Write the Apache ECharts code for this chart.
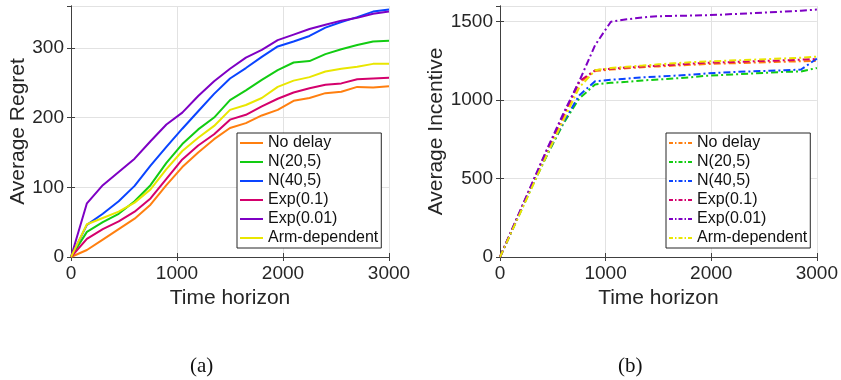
<!DOCTYPE html>
<html>
<head>
<meta charset="utf-8">
<script src="https://cdn.jsdelivr.net/npm/echarts@6/dist/echarts.min.js"></script>
<style>
  html, body { margin: 0; padding: 0; background: #fff; }
  #chart { width: 841px; height: 380px; }
</style>
</head>
<body>
<div id="chart"></div>
<script>
var steps = [0, 150, 300, 450, 600, 750, 900, 1050, 1200, 1350, 1500, 1650, 1800, 1950, 2100, 2250, 2400, 2550, 2700, 2850, 3000]
var names = ['No delay', 'N(20,5)', 'N(40,5)', 'Exp(0.1)', 'Exp(0.01)', 'Arm-dependent']
var colors = ['#ff7f0f', '#12cc12', '#0a44ff', '#d4006c', '#7e00c4', '#e9e600']

// (a) average regret
var regretNoDelay = [0, 10, 25, 40, 55, 75, 103, 129, 150, 169, 185, 192, 203, 211, 224, 228, 235, 237, 244, 243, 245]
var regretN20 = [0, 36, 50, 62, 80, 103, 135, 162, 183, 200, 225, 239, 254, 268, 279, 281, 291, 298, 304, 309, 310]
var regretN40 = [0, 46, 62, 80, 102, 131, 158, 184, 209, 234, 256, 271, 287, 302, 309, 317, 329, 337, 344, 352, 355]
var regretExp01 = [0, 26, 40, 51, 65, 84, 112, 140, 160, 176, 197, 204, 216, 227, 236, 242, 247, 249, 255, 256, 257]
var regretExp001 = [0, 77, 103, 122, 141, 166, 190, 207, 231, 252, 270, 286, 297, 311, 319, 327, 333, 339, 343, 349, 352]
var regretArm = [0, 47, 56, 65, 78, 97, 126, 152, 171, 188, 211, 218, 228, 244, 253, 258, 266, 270, 273, 277, 277]

// (b) average incentive
var incNoDelay = [0, 228, 455, 680, 890, 1110, 1185, 1195, 1203, 1210, 1215, 1220, 1225, 1230, 1233, 1236, 1239, 1242, 1245, 1248, 1250]
var incN20 = [0, 222, 445, 655, 850, 1010, 1100, 1110, 1117, 1125, 1132, 1138, 1145, 1155, 1160, 1165, 1170, 1175, 1180, 1183, 1205]
var incN40 = [0, 225, 450, 660, 860, 1030, 1120, 1130, 1137, 1145, 1150, 1156, 1162, 1170, 1175, 1180, 1184, 1187, 1190, 1195, 1265]
var incExp01 = [0, 230, 460, 690, 905, 1120, 1190, 1200, 1208, 1214, 1220, 1226, 1232, 1238, 1241, 1244, 1248, 1251, 1254, 1258, 1262]
var incExp001 = [0, 232, 465, 695, 915, 1120, 1350, 1500, 1515, 1527, 1535, 1537, 1539, 1541, 1545, 1550, 1555, 1560, 1565, 1570, 1577]
var incArm = [0, 220, 440, 660, 870, 1080, 1190, 1205, 1213, 1220, 1228, 1235, 1241, 1246, 1250, 1254, 1258, 1262, 1266, 1270, 1277]

var regretData = [regretNoDelay, regretN20, regretN40, regretExp01, regretExp001, regretArm]
var incData = [incNoDelay, incN20, incN40, incExp01, incExp001, incArm]

var axisCol = '#404040'
var txtCol = '#262626'
var font = 'Liberation Sans, Arial, sans-serif'
var dashDot = [7, 3, 2, 3]

function pairs(vals) {
  return steps.map(function (t, i) { return [t, vals[i]] })
}
function plain(v) { return String(v) }

function mainX(gi) {
  return {
    type: 'value', gridIndex: gi, min: 0, max: 3000, interval: 1000,
    name: 'Time horizon', nameLocation: 'middle', nameGap: 30,
    nameTextStyle: { fontSize: 21, color: txtCol, fontFamily: font },
    axisLine: { show: true, lineStyle: { color: axisCol, width: 1 } },
    axisTick: { show: true, inside: true, length: 4, lineStyle: { color: axisCol } },
    axisLabel: { fontSize: 19, color: txtCol, fontFamily: font, margin: 7, formatter: plain },
    splitLine: { show: true, lineStyle: { color: '#e2e2e2', width: 1 } }
  }
}
function mainY(gi, max, interval, name, gap) {
  return {
    type: 'value', gridIndex: gi, min: 0, max: max, interval: interval,
    name: name, nameLocation: 'middle', nameGap: gap,
    nameTextStyle: { fontSize: 21, color: txtCol, fontFamily: font },
    axisLine: { show: true, lineStyle: { color: axisCol, width: 1 } },
    axisTick: { show: true, inside: true, length: 4, lineStyle: { color: axisCol } },
    axisLabel: { fontSize: 19, color: txtCol, fontFamily: font, margin: 7, showMaxLabel: false, formatter: plain },
    splitLine: { show: true, lineStyle: { color: '#e2e2e2', width: 1 } }
  }
}
function boxX(gi) {
  return {
    type: 'value', gridIndex: gi, position: 'top', min: 0, max: 3000, interval: 1000,
    axisLine: { show: true, lineStyle: { color: axisCol, width: 1 } },
    axisTick: { show: true, inside: true, length: 4, lineStyle: { color: axisCol } },
    axisLabel: { show: false }, splitLine: { show: false }
  }
}
function boxY(gi, max, interval) {
  return {
    type: 'value', gridIndex: gi, position: 'right', min: 0, max: max, interval: interval,
    axisLine: { show: true, lineStyle: { color: axisCol, width: 1 } },
    axisTick: { show: true, inside: true, length: 4, lineStyle: { color: axisCol } },
    axisLabel: { show: false }, splitLine: { show: false }
  }
}

var series = []
names.forEach(function (n, i) {
  series.push({
    name: n, type: 'line', xAxisIndex: 0, yAxisIndex: 0, symbol: 'none',
    data: pairs(regretData[i]), color: colors[i],
    lineStyle: { width: 2, color: colors[i] }
  })
})
names.forEach(function (n, i) {
  series.push({
    name: n, type: 'line', xAxisIndex: 2, yAxisIndex: 2, symbol: 'none',
    data: pairs(incData[i]), color: colors[i],
    lineStyle: { width: 2, color: colors[i], type: dashDot }
  })
})

function legendAt(left, dashed) {
  var lg = {
    orient: 'vertical', left: left, top: 133,
    data: names, itemWidth: 23, itemHeight: 14, itemGap: 3,
    padding: [2, 3, 2, 2],
    borderColor: '#262626', borderWidth: 1, borderRadius: 0, backgroundColor: '#fff',
    textStyle: { fontSize: 16, color: '#111', fontFamily: font },
    itemStyle: { opacity: 0 },
    selectedMode: false
  }
  if (dashed) lg.lineStyle = { type: [4, 2, 1.5, 2], width: 2 }
  else lg.lineStyle = { width: 2 }
  return lg
}

var chart = echarts.init(document.getElementById('chart'))
chart.setOption({
  backgroundColor: '#fff',
  animation: false,
  grid: [
    { left: 71, top: 6, width: 318, height: 251, show: true, borderColor: axisCol, borderWidth: 0 },
    { left: 500, top: 6, width: 318, height: 251, show: true, borderColor: axisCol, borderWidth: 0 }
  ],
  xAxis: [mainX(0), boxX(0), mainX(1), boxX(1)],
  yAxis: [
    mainY(0, 360, 100, 'Average Regret', 42), boxY(0, 360, 100),
    mainY(1, 1600, 500, 'Average Incentive', 52), boxY(1, 1600, 500)
  ],
  legend: [legendAt(237, false), legendAt(666, true)],
  series: series,
  graphic: [
    { type: 'text', left: 190, top: 356, style: { text: '(a)', fontSize: 21, fill: '#111', fontFamily: 'Liberation Serif, Times New Roman, serif' } },
    { type: 'text', left: 618, top: 356, style: { text: '(b)', fontSize: 21, fill: '#111', fontFamily: 'Liberation Serif, Times New Roman, serif' } }
  ]
})
</script>
</body>
</html>
